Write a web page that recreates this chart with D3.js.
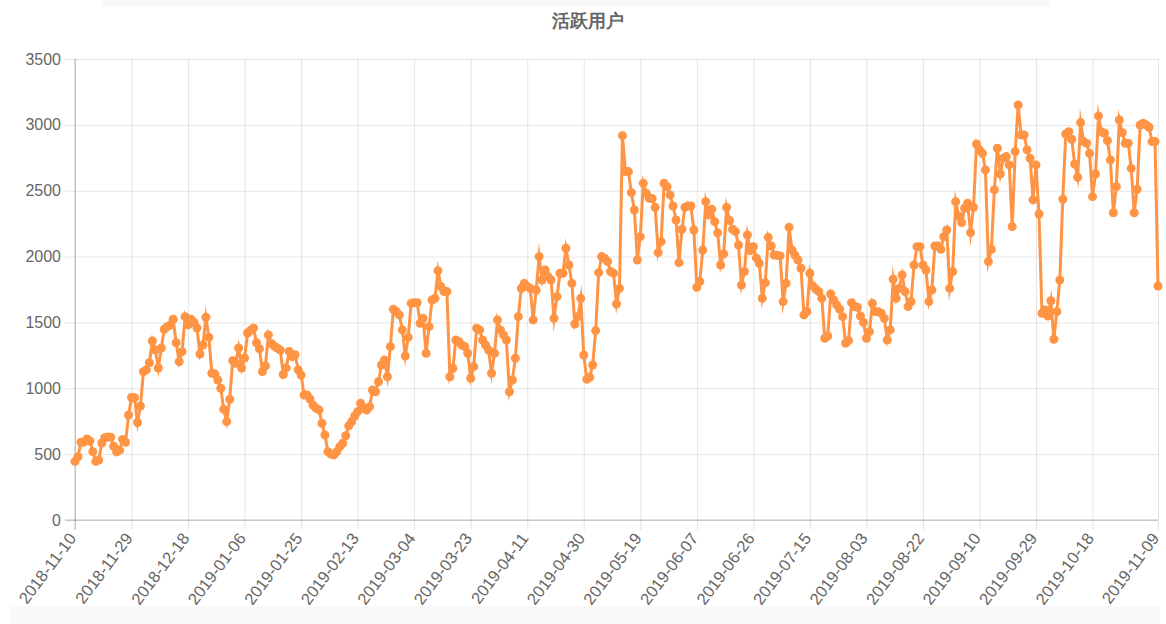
<!DOCTYPE html>
<html>
<head>
<meta charset="utf-8">
<script src="https://cdn.jsdelivr.net/npm/d3@7"></script>
<style>
  body { margin: 0; background: #fff; }
  svg { display: block; font-family: "Liberation Sans", Arial, Helvetica, sans-serif; }
</style>
</head>
<body>
<div id="chart"></div>
<script>
var svgWidth = 1166;
var svgHeight = 624;

var margin = {
      top: 59,
      right: 8,
      bottom: 104,
      left: 75
};

var chartTitle = "活跃用户";
var startDay = "2018-11-10";
var dayCount = 365;

// daily active users, one per day from 2018-11-10
var activeUsers = [
  445, 480, 590, 592, 615, 600, 519, 445, 455, 585,
  625, 630, 628, 560, 517, 530, 612, 590, 797, 930,
  928, 740, 865, 1126, 1140, 1194, 1359, 1291, 1154, 1306,
  1448, 1468, 1480, 1524, 1346, 1202, 1278, 1544, 1481, 1524,
  1500, 1458, 1260, 1329, 1539, 1387, 1114, 1109, 1063, 1000,
  840, 747, 917, 1210, 1190, 1306, 1154, 1230, 1420, 1440,
  1458, 1346, 1300, 1126, 1170, 1405, 1340, 1320, 1305, 1290,
  1105, 1155, 1280, 1240, 1255, 1140, 1100, 949, 949, 918,
  873, 848, 836, 734, 645, 519, 500, 494, 519, 557,
  583, 640, 715, 747, 790, 823, 886, 848, 835, 860,
  987, 974, 1050, 1177, 1215, 1088, 1316, 1600, 1582, 1557,
  1443, 1245, 1387, 1645, 1650, 1650, 1494, 1531, 1266, 1468,
  1670, 1683, 1893, 1772, 1734, 1734, 1088, 1152, 1367, 1355,
  1329, 1316, 1266, 1076, 1164, 1456, 1443, 1367, 1329, 1291,
  1114, 1266, 1519, 1443, 1405, 1367, 974, 1063, 1228, 1544,
  1759, 1797, 1772, 1759, 1519, 1746, 2000, 1822, 1898, 1848,
  1822, 1531, 1696, 1873, 1873, 2063, 1936, 1797, 1488, 1544,
  1683, 1253, 1068, 1083, 1177, 1438, 1878, 2000, 1987, 1962,
  1886, 1873, 1640, 1759, 2918, 2645, 2645, 2485, 2354, 1974,
  2151, 2556, 2481, 2443, 2440, 2374, 2030, 2113, 2556, 2531,
  2468, 2384, 2278, 1954, 2207, 2374, 2384, 2384, 2202, 1767,
  1810, 2050, 2417, 2316, 2359, 2265, 2180, 1936, 2020, 2374,
  2273, 2207, 2189, 2088, 1784, 1886, 2164, 2045, 2075, 1990,
  1949, 1683, 1802, 2146, 2080, 2012, 2010, 2005, 1658, 1797,
  2222, 2050, 2010, 1974, 1911, 1557, 1582, 1873, 1777, 1752,
  1734, 1683, 1380, 1397, 1716, 1670, 1633, 1600, 1544, 1342,
  1362, 1650, 1620, 1615, 1549, 1500, 1380, 1430, 1645, 1582,
  1582, 1570, 1531, 1367, 1443, 1828, 1683, 1759, 1860, 1734,
  1620, 1658, 1936, 2075, 2075, 1936, 1898, 1658, 1746, 2080,
  2080, 2055, 2151, 2202, 1759, 1886, 2417, 2308, 2258, 2367,
  2405, 2182, 2374, 2855, 2810, 2784, 2658, 1962, 2055, 2506,
  2822, 2627, 2746, 2759, 2696, 2227, 2797, 3151, 2923, 2923,
  2810, 2746, 2430, 2696, 2323, 1569, 1595, 1549, 1665, 1372,
  1582, 1822, 2435, 2931, 2948, 2890, 2703, 2602, 3017, 2873,
  2860, 2784, 2455, 2627, 3068, 2948, 2936, 2880, 2734, 2333,
  2531, 3037, 2941, 2860, 2860, 2670, 2333, 2511, 2999, 3012,
  3000, 2981, 2873, 2873, 1777
];

var xTickLabels = [
  "2018-11-10", "2018-11-29", "2018-12-18", "2019-01-06", "2019-01-25",
  "2019-02-13", "2019-03-04", "2019-03-23", "2019-04-11", "2019-04-30",
  "2019-05-19", "2019-06-07", "2019-06-26", "2019-07-15", "2019-08-03",
  "2019-08-22", "2019-09-10", "2019-09-29", "2019-10-18", "2019-11-09"
];

var yTickValues = [0, 500, 1000, 1500, 2000, 2500, 3000, 3500];

var lineColor = "#fe9444";

// category labels: every day of the year
var fmt = d3.timeFormat("%Y-%m-%d");
var day0 = d3.timeParse("%Y-%m-%d")(startDay);
var days = d3.range(dayCount).map(function(i) { return fmt(d3.timeDay.offset(day0, i)); });

var dataSet = days.map(function(d, i) { return { day: d, users: activeUsers[i] }; });

var width = svgWidth - margin.left - margin.right;
var height = svgHeight - margin.top - margin.bottom;

var svg = d3.select("#chart")
            .append("svg")
            .attr("width", svgWidth)
            .attr("height", svgHeight);

// faint panel edges seen in the screenshot
svg.append("rect").attr("x", 103).attr("y", 0).attr("width", 947).attr("height", 6).attr("fill", "#f7f7f7");
svg.append("rect").attr("x", 10).attr("y", 606).attr("width", 1150).attr("height", 18).attr("fill", "#f9f9f9");

svg.append("text")
   .attr("x", 588)
   .attr("y", 27)
   .attr("text-anchor", "middle")
   .attr("font-size", 18)
   .attr("font-weight", "bold")
   .attr("fill", "#666")
   .text(chartTitle);

var chartGroup = svg.append("g").attr("transform", `translate(${margin.left}, ${margin.top})`);

var xScale = d3.scalePoint()
               .domain(days)
               .range([0, width]);

var yScale = d3.scaleLinear()
               .domain([0, 3500])
               .range([height, 0]);

// grid
var yGrid = chartGroup.append("g")
    .call(d3.axisLeft(yScale).tickValues(yTickValues).tickSize(-width).tickFormat(""));
var xGrid = chartGroup.append("g")
    .attr("transform", `translate(0, ${height})`)
    .call(d3.axisBottom(xScale).tickValues(xTickLabels).tickSize(-height).tickFormat(""));
[yGrid, xGrid].forEach(function(g) {
    g.select(".domain").remove();
    g.selectAll("line").attr("stroke", "rgba(0,0,0,0.1)");
});

// axes
var yAxis = chartGroup.append("g")
    .call(d3.axisLeft(yScale).tickValues(yTickValues).tickFormat(d3.format("d")).tickSize(10).tickPadding(4));
var xAxis = chartGroup.append("g")
    .attr("transform", `translate(0, ${height})`)
    .call(d3.axisBottom(xScale).tickValues(xTickLabels).tickSize(10));

[yAxis, xAxis].forEach(function(g) {
    g.select(".domain").remove();
    g.selectAll("line").attr("stroke", "rgba(0,0,0,0.1)");
    g.selectAll("text").attr("fill", "#666").attr("font-size", 16)
     .attr("font-family", "'Liberation Sans', Arial, sans-serif");
});

xAxis.selectAll("text")
     .attr("text-anchor", "end")
     .attr("y", 0)
     .attr("dy", "0.35em")
     .attr("font-size", 16.5)
     .attr("transform", "translate(-3, 15) rotate(-53)");

// zero lines
chartGroup.append("line").attr("x1", 0).attr("x2", 0).attr("y1", 0).attr("y2", height + 10)
          .attr("stroke", "rgba(0,0,0,0.25)");
chartGroup.append("line").attr("x1", -10).attr("x2", width).attr("y1", height).attr("y2", height)
          .attr("stroke", "rgba(0,0,0,0.25)");

var line = d3.line()
             .x(d => xScale(d.day))
             .y(d => yScale(d.users));

chartGroup.append("path")
          .datum(dataSet)
          .attr("d", line)
          .attr("fill", "none")
          .attr("stroke", lineColor)
          .attr("stroke-width", 3)
          .attr("stroke-linejoin", "miter")
          .attr("stroke-miterlimit", 10);

chartGroup.selectAll("circle")
          .data(dataSet)
          .enter()
          .append("circle")
          .attr("cx", d => xScale(d.day))
          .attr("cy", d => yScale(d.users))
          .attr("r", 4.5)
          .attr("fill", lineColor);
</script>
</body>
</html>
